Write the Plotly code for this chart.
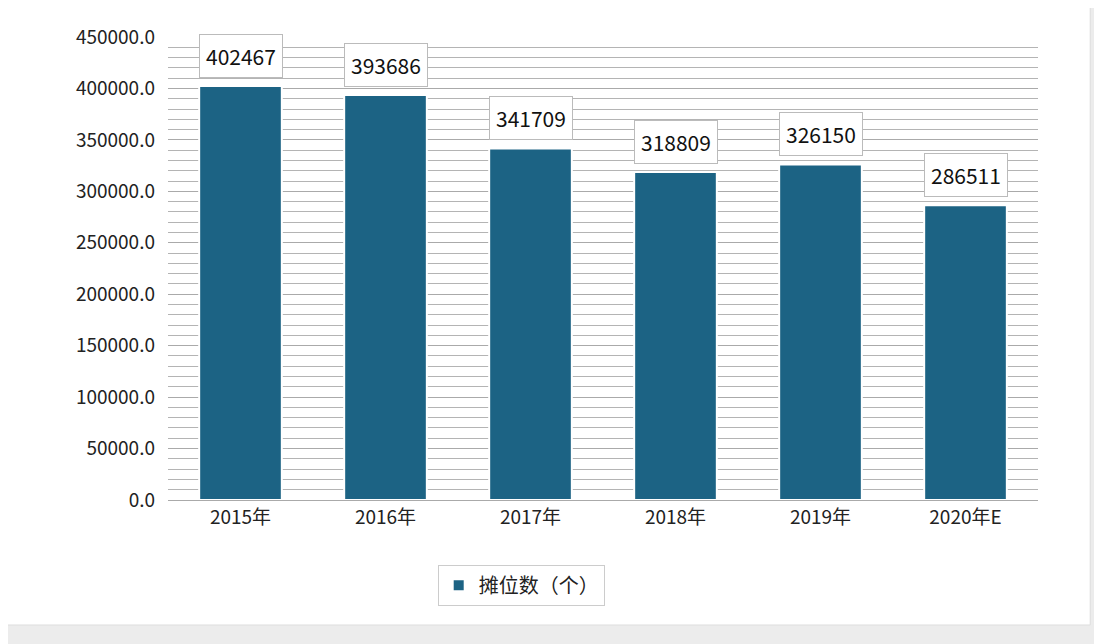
import plotly.graph_objects as go

years = ['2015年', '2016年', '2017年', '2018年', '2019年', '2020年E']
stalls = [402467, 393686, 341709, 318809, 326150, 286511]
series_name = '摊位数（个）'
y_ticks = list(range(0, 450001, 50000))

font = 'Noto Sans CJK SC, Noto Sans, sans-serif'

fig = go.Figure()
fig.add_trace(go.Bar(
    x=years, y=stalls, name=series_name,
    marker=dict(color='#1c6384', line=dict(color='white', width=2)),
    width=0.57,
))

for yr, v in zip(years, stalls):
    fig.add_annotation(
        x=yr, y=v, yshift=8, yanchor='bottom', text=str(v), showarrow=False,
        font=dict(size=21, color='#111', family=font),
        bgcolor='white', bordercolor='#bbbbbb', borderwidth=1, borderpad=6,
    )

fig.add_shape(type='rect', xref='paper', yref='paper', x0=-0.185, x1=1.06, y0=-0.27, y1=1.075,
              fillcolor='white', line=dict(color='#dddddd', width=1), layer='below')

fig.update_layout(
    width=1102, height=644,
    margin=dict(l=160, r=72, t=29, b=152),
    paper_bgcolor='#ececec',
    plot_bgcolor='#f2f2f2',
    font=dict(family=font, size=19, color='#222'),
    showlegend=True,
    legend=dict(orientation='h', x=0.31, y=-0.14, xanchor='left', yanchor='top',
                bgcolor='white', bordercolor='#cccccc', borderwidth=1,
                font=dict(size=20)),
)
fig.update_xaxes(showgrid=False, showline=True, linecolor='#aaaaaa', ticks='',
                 tickfont=dict(size=19))
fig.update_yaxes(range=[0, 450000], tickvals=y_ticks,
                 ticktext=[f'{v:.1f}' for v in y_ticks],
                 showgrid=True, gridcolor='#aaaaaa', gridwidth=1,
                 minor=dict(dtick=10000, showgrid=True, gridcolor='#b4b4b4', gridwidth=1),
                 tickfont=dict(size=19), zeroline=False, ticklabelstandoff=12)

fig.write_html('out.html')
